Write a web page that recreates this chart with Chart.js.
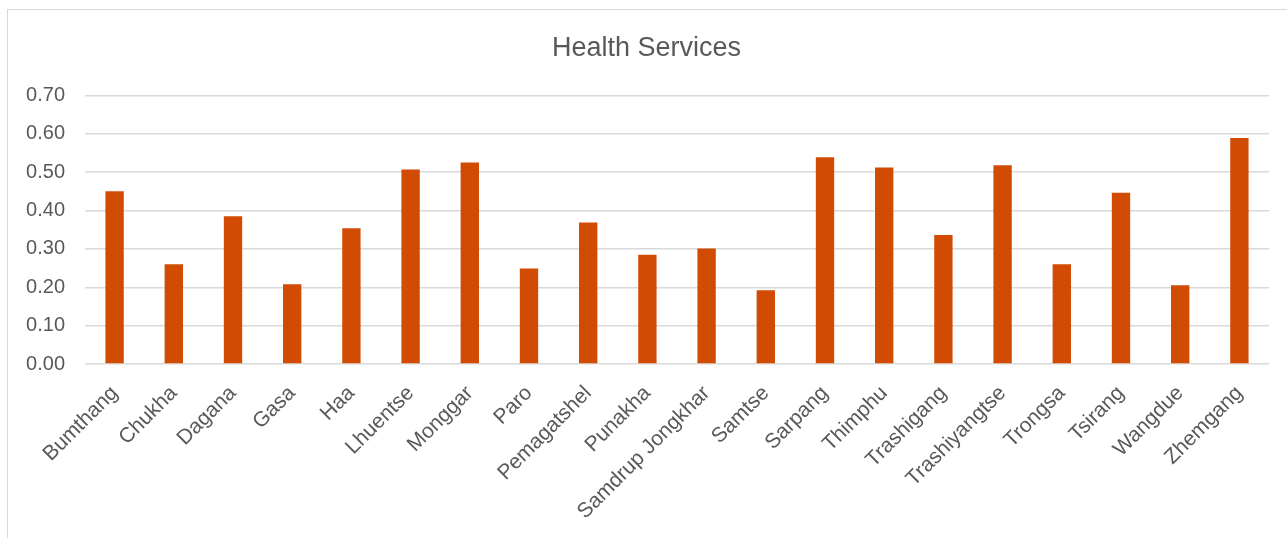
<!DOCTYPE html>
<html>
<head>
<meta charset="utf-8">
<script src="https://cdn.jsdelivr.net/npm/chart.js@4"></script>
<style>
   html, body { margin: 0; padding: 0; background: #fff; overflow: hidden; }
   #frame { position: absolute; left: 7px; top: 9px; width: 1400px; height: 700px; border: 1px solid #d9d9d9; }
   #wrap { position: absolute; left: 0; top: 0; width: 1287px; height: 538px; }
</style>
</head>
<body>
<div id="frame"></div>
<div id="wrap"><canvas id="health-chart"></canvas></div>
<script>
// districts and their health services index
const districts = [
   "Bumthang", "Chukha", "Dagana", "Gasa", "Haa", "Lhuentse", "Monggar", "Paro",
   "Pemagatshel", "Punakha", "Samdrup Jongkhar", "Samtse", "Sarpang", "Thimphu",
   "Trashigang", "Trashiyangtse", "Trongsa", "Tsirang", "Wangdue", "Zhemgang",
];
const healthValues = [
   0.45, 0.26, 0.385, 0.208, 0.354, 0.507, 0.525, 0.249,
   0.369, 0.285, 0.301, 0.192, 0.539, 0.512,
   0.336, 0.518, 0.26, 0.446, 0.205, 0.589,
];
const yTicks = [0, 0.1, 0.2, 0.3, 0.4, 0.5, 0.6, 0.7];

const textColor = "#595959";
const fontFamily = "'Liberation Sans', Arial, sans-serif";

document.addEventListener("DOMContentLoaded", function () {
   const ctx = document.getElementById("health-chart").getContext("2d");
   const healthChart = new Chart(ctx, {
      type: "bar",
      data: {
         labels: districts,
         datasets: [
            {
               label: "Health Services",
               data: healthValues,
               backgroundColor: "#d14b02",
               barPercentage: 0.31,
               categoryPercentage: 1,
            },
         ],
      },
      options: {
         responsive: true,
         maintainAspectRatio: false,
         animation: false,
         layout: {
            // left padding nudges the title centre right; y axis width makes up for it
            padding: { left: 24, right: 18, top: 0, bottom: 0 },
         },
         plugins: {
            legend: { display: false },
            tooltip: { enabled: false },
            title: {
               display: true,
               text: "Health Services",
               color: textColor,
               font: { family: fontFamily, size: 27, weight: "normal" },
               padding: { top: 32, bottom: 31 },
            },
         },
         scales: {
            x: {
               grid: { display: false },
               border: { display: false },
               ticks: {
                  color: textColor,
                  font: { family: fontFamily, size: 21 },
                  minRotation: 45,
                  maxRotation: 45,
                  autoSkip: false,
                  padding: 9,
               },
               afterFit: function (scale) {
                  scale.height = 174;
               },
            },
            y: {
               min: 0,
               max: 0.7,
               afterBuildTicks: function (scale) {
                  scale.ticks = yTicks.map((v) => ({ value: v }));
               },
               grid: { color: "#d9d9d9", lineWidth: 1.5, drawTicks: false },
               border: { display: false },
               ticks: {
                  color: textColor,
                  font: { family: fontFamily, size: 20 },
                  padding: 20,
                  callback: (v) => Number(v).toFixed(2),
               },
               afterFit: function (scale) {
                  scale.width = 61;
               },
            },
         },
      },
   });
});
</script>
</body>
</html>
